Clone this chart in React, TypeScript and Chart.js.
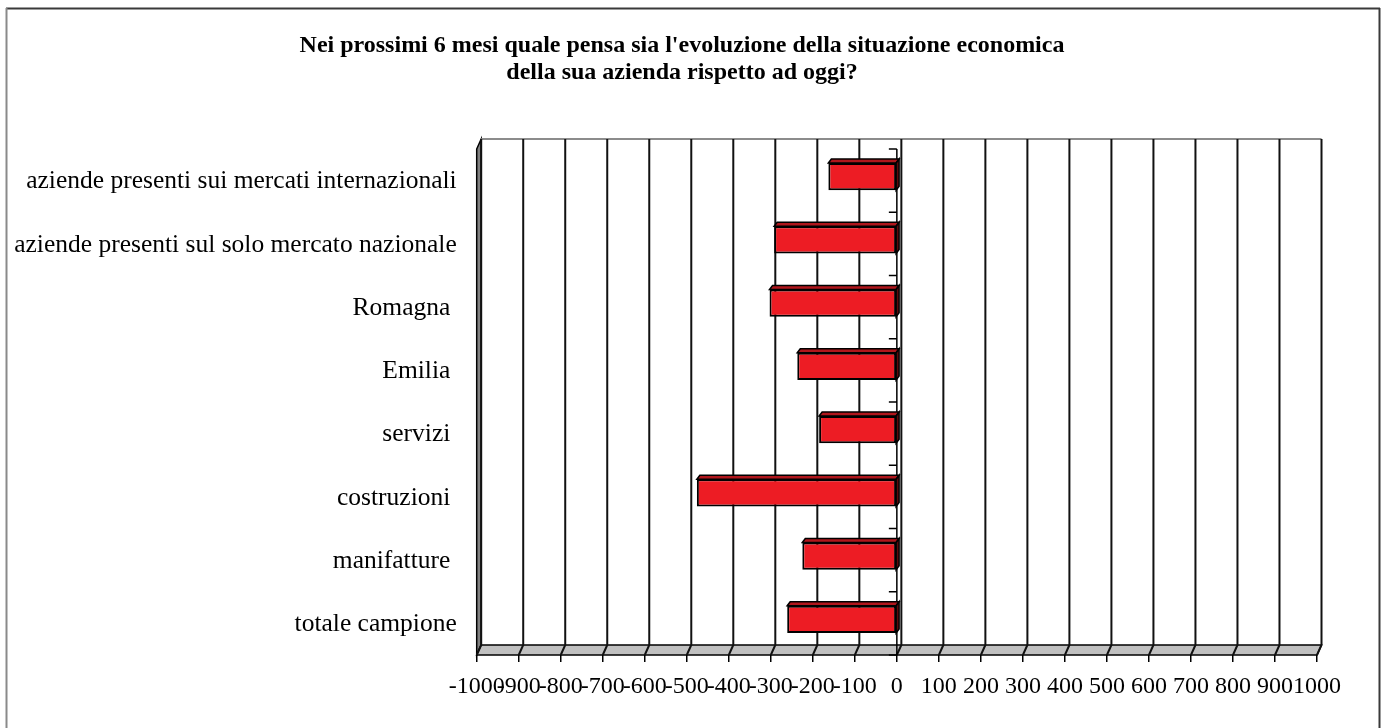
import React, { useEffect, useRef } from 'react';
import { Chart, registerables } from 'chart.js';

Chart.register(...registerables);

// ---- Data ----
const TITLE_LINES = [
  "Nei prossimi 6 mesi quale pensa sia l'evoluzione della situazione economica",
  'della sua azienda rispetto ad oggi?',
];
const CATEGORIES = [
  'aziende presenti sui mercati internazionali',
  'aziende presenti sul solo mercato nazionale',
  'Romagna ',
  'Emilia ',
  'servizi ',
  'costruzioni ',
  'manifatture ',
  'totale campione',
];
const VALUES = [-163, -292, -303, -237, -185, -476, -225, -261];
const X_MIN = -1000;
const X_MAX = 1000;
const X_STEP = 100;

const FONT = "'Liberation Serif', 'Times New Roman', serif";

const DX = 4.5; // 3D depth offset (x)
const DY = 10; // 3D depth offset (y)
const FRONT_SHIFT = 4; // front plane below bar plane

const threeD = {
  id: 'threeD',
  beforeDraw(chart: any) {
    const { ctx } = chart;
    ctx.save();
    ctx.lineWidth = 2;
    ctx.strokeStyle = '#3a3a3a';
    ctx.beginPath();
    ctx.moveTo(6, 8.5);
    ctx.lineTo(1380, 8.5);
    ctx.moveTo(1379.5, 8);
    ctx.lineTo(1379.5, 740);
    ctx.stroke();
    ctx.strokeStyle = '#8a8a8a';
    ctx.beginPath();
    ctx.moveTo(6.5, 8);
    ctx.lineTo(6.5, 740);
    ctx.stroke();
    ctx.restore();
  },
  beforeDatasetsDraw(chart: any) {
    const { ctx, chartArea, scales } = chart;
    const { left, right, top, bottom } = chartArea;
    const x = scales.x;
    const y = scales.y;
    const fTop = top + FRONT_SHIFT;
    const fBot = bottom + FRONT_SHIFT;
    const bTop = fTop - DY;
    const bBot = fBot - DY;
    ctx.save();
    ctx.lineJoin = 'miter';
    // left wall
    ctx.beginPath();
    ctx.moveTo(left, fTop);
    ctx.lineTo(left + DX, bTop);
    ctx.lineTo(left + DX, bBot);
    ctx.lineTo(left, fBot);
    ctx.closePath();
    ctx.fillStyle = '#808080';
    ctx.fill();
    ctx.lineWidth = 1.5;
    ctx.strokeStyle = '#000';
    ctx.stroke();
    // floor
    ctx.beginPath();
    ctx.moveTo(left, fBot);
    ctx.lineTo(left + DX, bBot);
    ctx.lineTo(right + DX, bBot);
    ctx.lineTo(right, fBot);
    ctx.closePath();
    ctx.fillStyle = '#c0c0c0';
    ctx.fill();
    ctx.stroke();
    // back wall top edge
    ctx.beginPath();
    ctx.strokeStyle = '#8c8c8c';
    ctx.lineWidth = 2;
    ctx.moveTo(left + DX, bTop);
    ctx.lineTo(right + DX, bTop);
    ctx.stroke();
    // gridlines on back wall and floor
    ctx.strokeStyle = '#111';
    ctx.lineWidth = 2;
    for (let v = X_MIN; v <= X_MAX; v += X_STEP) {
      const px = x.getPixelForValue(v);
      ctx.beginPath();
      ctx.moveTo(px + DX, bTop);
      ctx.lineTo(px + DX, bBot);
      ctx.lineTo(px, fBot);
      ctx.stroke();
    }
    // category axis at zero
    const zx = x.getPixelForValue(0);
    ctx.lineWidth = 1.5;
    ctx.strokeStyle = '#000';
    ctx.beginPath();
    ctx.moveTo(zx, fTop);
    ctx.lineTo(zx, fBot);
    const half = (y.getPixelForValue(1) - y.getPixelForValue(0)) / 2;
    for (let i = 0; i <= CATEGORIES.length; i++) {
      const yy = y.getPixelForValue(0) - half + i * 2 * half + FRONT_SHIFT;
      ctx.moveTo(zx - 8, yy);
      ctx.lineTo(zx, yy);
    }
    ctx.stroke();
    ctx.restore();
  },
  afterDatasetsDraw(chart: any) {
    const { ctx } = chart;
    const meta = chart.getDatasetMeta(0);
    const dx = 3;
    const dy = 4;
    ctx.save();
    ctx.lineWidth = 1.5;
    ctx.strokeStyle = '#000';
    meta.data.forEach((bar: any) => {
      const p = bar.getProps(['x', 'y', 'base', 'height'], true);
      const l = Math.min(p.x, p.base);
      const r = Math.max(p.x, p.base);
      const t = p.y - p.height / 2;
      const b = p.y + p.height / 2;
      ctx.beginPath();
      ctx.moveTo(l, t);
      ctx.lineTo(l + dx, t - dy);
      ctx.lineTo(r + dx, t - dy);
      ctx.lineTo(r, t);
      ctx.closePath();
      ctx.fillStyle = '#b0161c';
      ctx.fill();
      ctx.stroke();
      ctx.beginPath();
      ctx.moveTo(r, t);
      ctx.lineTo(r + dx, t - dy);
      ctx.lineTo(r + dx, b - dy);
      ctx.lineTo(r, b);
      ctx.closePath();
      ctx.fillStyle = '#5a0a0d';
      ctx.fill();
      ctx.stroke();
    });
    ctx.restore();
  },
};

export default function App() {
  const ref = useRef<HTMLCanvasElement>(null);
  useEffect(() => {
    document.body.style.margin = '0';
    const chart = new Chart(ref.current as HTMLCanvasElement, {
      type: 'bar',
      data: {
        labels: CATEGORIES,
        datasets: [
          {
            data: VALUES,
            backgroundColor: '#ed1c24',
            borderColor: '#000',
            borderWidth: 2,
            borderSkipped: false,
            barPercentage: 0.43,
            categoryPercentage: 1,
          },
        ],
      },
      options: {
        indexAxis: 'y',
        responsive: false,
        animation: false,
        devicePixelRatio: 1,
        layout: { padding: { left: 0, right: 19, top: 0, bottom: 0 } },
        plugins: {
          legend: { display: false },
          tooltip: { enabled: false },
          title: {
            display: true,
            text: TITLE_LINES,
            color: '#000',
            font: { family: FONT, size: 24, weight: 'bold', lineHeight: '27px' },
            padding: { top: 32.5, bottom: 58.5 },
          },
        },
        scales: {
          x: {
            type: 'linear',
            min: X_MIN,
            max: X_MAX,
            afterFit(scale: any) {
              scale.height = 77;
            },
            ticks: {
              stepSize: X_STEP,
              autoSkip: false,
              maxRotation: 0,
              minRotation: 0,
              padding: 10,
              color: '#000',
              font: { family: FONT, size: 24 },
              callback: (v: any) => String(v),
            },
            grid: {
              display: true,
              drawOnChartArea: false,
              drawTicks: true,
              tickLength: 11,
              color: '#000',
              lineWidth: 1.5,
            },
            border: { display: false },
          },
          y: {
            afterFit(scale: any) {
              scale.width = 476.7;
            },
            ticks: {
              padding: 12,
              labelOffset: 5,
              color: '#000',
              font: { family: FONT, size: 25.5 },
            },
            grid: { display: false },
            border: { display: false },
          },
          yRight: {
            type: 'category',
            position: 'right',
            labels: CATEGORIES,
            afterFit(scale: any) {
              scale.width = 47;
            },
            ticks: { display: false },
            grid: { display: false },
            border: { display: false },
          },
        },
      },
      plugins: [threeD],
    } as any);
    return () => chart.destroy();
  }, []);
  return (
    <div style={{ width: 1383, height: 728 }}>
      <canvas ref={ref} width={1383} height={728} style={{ display: 'block' }} />
    </div>
  );
}
